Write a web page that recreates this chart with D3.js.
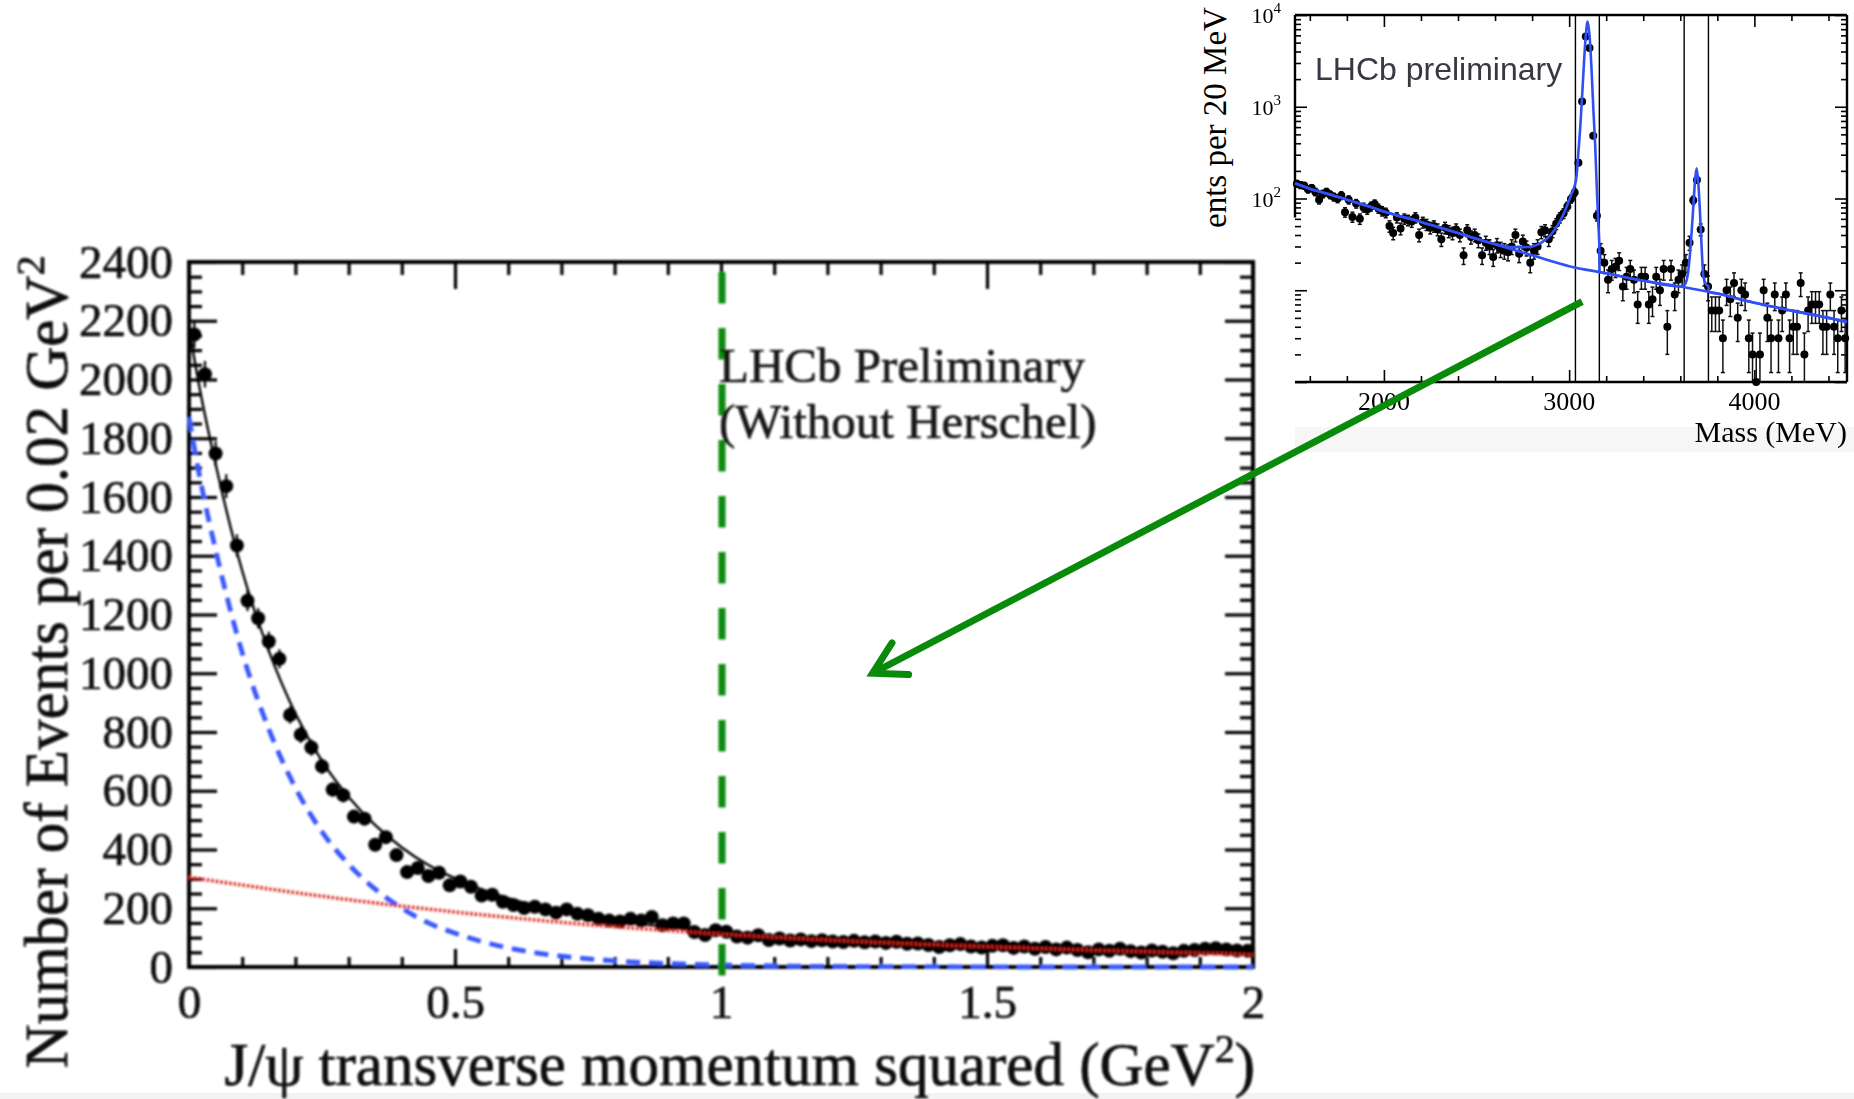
<!DOCTYPE html>
<html>
<head>
<meta charset="utf-8">
<script src="https://cdn.jsdelivr.net/npm/d3@7"></script>
<style>
  body { margin: 0; background: #fff; }
  svg { display: block; }
</style>
</head>
<body>
<div id="container"></div>
<script>
let w = 1854;
let h = 1099;

// ---- MAIN PLOT DATA (J/psi pT^2, bins of 0.02 GeV^2) ----
let binWidth = 0.02;
let counts = [2153, 2018, 1748, 1637, 1435, 1247, 1187, 1108, 1049, 858,
  791, 747, 683, 604, 585, 512, 505, 416, 442, 381,
  323, 337, 310, 321, 278, 291, 273, 243, 246, 222,
  211, 201, 205, 196, 185, 196, 181, 176, 164, 158,
  155, 164, 158, 170, 142, 148, 148, 119, 109, 125,
  120, 104, 100, 108, 92, 97, 90, 94, 88, 91,
  87, 85, 89, 84, 87, 82, 86, 79, 80, 75,
  68, 74, 78, 70, 66, 72, 74, 65, 70, 62,
  68, 60, 66, 58, 50, 60, 55, 62, 54, 49,
  56, 52, 47, 55, 58, 62, 64, 60, 56, 55];

// fit curves
let fitPt = [0, 0.02, 0.05, 0.1, 0.15, 0.2, 0.25, 0.3, 0.35, 0.4, 0.45, 0.5, 0.6, 0.7, 0.8, 0.9, 1.0, 1.2, 1.4, 1.6, 1.8, 2.0];
let fitSignal = [1870, 1670, 1420, 1070, 810, 610, 460, 350, 265, 200, 150, 115, 65, 37, 21, 12, 7, 2, 1, 0, 0, 0];
let fitBackground = [305, 300, 292, 279, 266, 253, 241, 229, 218, 207, 197, 187, 169, 152, 137, 124, 112, 92, 76, 63, 52, 42];
let fitTotal = [2175, 1970, 1712, 1349, 1076, 863, 701, 579, 483, 407, 347, 302, 234, 189, 158, 136, 119, 94, 77, 63, 52, 42];

let yTicks = [0, 200, 400, 600, 800, 1000, 1200, 1400, 1600, 1800, 2000, 2200, 2400];
let xTicks = [0, 0.5, 1, 1.5, 2];
let xTickLabels = ["0", "0.5", "1", "1.5", "2"];
let cutPt = 1;

// ---- INSET DATA (dimuon mass, 20 MeV bins from 1520) ----
let massStart = 1520;
let massBin = 20;
let massCounts = [145, 140, 138, 126, 130, 118, 97, 112, 118, 110,
  104, 100, 108, 71, 97, 63, 88, 60, 80, 76,
  82, 87, 78, 73, 70, 50, 42, 62, 47, 60,
  58, 56, 62, 40, 55, 52, 48, 50, 46, 36,
  48, 44, 42, 46, 40, 24, 45, 38, 40, 35,
  24, 33, 30, 23, 31, 28, 27, 26, 30, 40,
  25, 34, 29, 20, 27, 30, 43, 45, 36, 44,
  53, 62, 69,
  82, 99, 116, 246, 1140, 5830, 4360, 482, 65, 27,
  20, 13, 17, 18, 21, 11, 14, 17, 13, 7, 14, 14, 7, 8, 14, 10, 17, 4, 17, 9, 13, 15,
  20, 33, 96, 159, 46, 15, 11,
  6, 6, 6, 3, 10, 8, 12, 5, 10, 9, 3, 2, 1, 2, 10, 5, 3, 9, 3, 6,
  9, 3, 4, 4, 12, 2, 6, 7, 7, 7, 4, 4, 9, 4, 3, 6, 3];

let bgMass = [1520, 1600, 1700, 1800, 1900, 2000, 2200, 2400, 2600, 2800, 3000, 3200, 3400, 3600, 3800, 4000, 4200, 4400, 4500];
let bgFit = [147, 128, 112, 97, 84.5, 72, 55.6, 42, 31.7, 24, 18.3, 15.3, 12.7, 11, 9.2, 7.3, 6, 5, 4.5];

let totalMass = [1520, 1600, 1700, 1800, 1900, 2000, 2200, 2400, 2600, 2700,
  2750, 2800, 2850, 2900, 2940, 2970, 2990, 3005, 3020, 3030,
  3040, 3050, 3060, 3070, 3080, 3090, 3100, 3110, 3120, 3130,
  3140, 3150, 3157, 3163, 3164, 3200, 3400, 3600, 3621, 3635,
  3650, 3660, 3670, 3680, 3688, 3696, 3705, 3715, 3725, 3740,
  3752, 3753, 3800, 4000, 4200, 4400, 4500];
let totalFit = [147, 128, 112, 97, 84.5, 72, 55.6, 42, 32, 29.5,
  29.5, 30, 33, 40, 52, 68, 85, 102, 122, 138,
  175, 320, 600, 1300, 3000, 6000, 8500, 6000, 2800, 1000,
  400, 120, 55, 30, 15.8, 15.3, 12.7, 11, 11.3, 13,
  22, 40, 80, 160, 214, 160, 80, 30, 14, 11.5,
  11, 9.6, 9.2, 7.3, 6, 5, 4.5];

let windowEdges = [3034, 3163, 3621, 3752];
let massTicks = [2000, 3000, 4000];
let decadeLabels = [[100, "2"], [1000, "3"], [10000, "4"]];

// arrow: from a point of the inset to a point of the main plot
let arrowFrom = {mass: 3070, n: 7.5};
let arrowTo = {pt: 1.285, n: 1000};

let serif = "'Liberation Serif', 'Times New Roman', serif";
let sans = "'Liberation Sans', Arial, sans-serif";

// SVG
let viz = d3.select("#container").append("svg")
    .attr("width", w)
    .attr("height", h);
viz.append("rect").attr("width", w).attr("height", h).attr("fill", "white");

let defs = viz.append("defs");
defs.append("filter").attr("id", "soft")
  .append("feGaussianBlur").attr("stdDeviation", 0.8);

// faint grey bands left from the pasted screenshots
viz.append("rect").attr("x", 0).attr("y", 1093).attr("width", w).attr("height", 6).attr("fill", "#f3f3f3");
viz.append("rect").attr("x", 1295).attr("y", 427).attr("width", w - 1295).attr("height", 25).attr("fill", "#f6f6f6");

// ================= MAIN PLOT =================
let x = d3.scaleLinear().domain([0, 2]).range([189, 1253]);
let y = d3.scaleLinear().domain([0, 2400]).range([967, 262]);

let main = viz.append("g").attr("filter", "url(#soft)");

function styleAxis(g, fontSize) {
  g.select(".domain").remove();
  g.selectAll("line").attr("stroke", "black").attr("stroke-width", 3.2);
  g.selectAll("text").attr("font-family", serif).attr("font-size", fontSize)
    .attr("fill", "#0a0a0a").attr("stroke", "#0a0a0a").attr("stroke-width", 0.6);
}

let yMinor = d3.range(0, 2401, 50).filter(v => v % 200 != 0);
let xMinor = d3.range(0, 21).map(v => v / 10).filter(v => Math.round(v * 10) % 5 != 0);

main.append("g").attr("transform", "translate(" + x(0) + ",0)")
  .call(d3.axisLeft(y).tickValues(yTicks).tickSize(-28).tickPadding(16).tickFormat(d3.format("d")))
  .call(g => styleAxis(g, 47));
main.append("g").attr("transform", "translate(" + x(0) + ",0)")
  .call(d3.axisLeft(y).tickValues(yMinor).tickSize(-13).tickFormat(""))
  .call(g => styleAxis(g, 47));
main.append("g").attr("transform", "translate(" + x(2) + ",0)")
  .call(d3.axisRight(y).tickValues(yTicks).tickSize(-28).tickFormat(""))
  .call(g => styleAxis(g, 47));
main.append("g").attr("transform", "translate(" + x(2) + ",0)")
  .call(d3.axisRight(y).tickValues(yMinor).tickSize(-13).tickFormat(""))
  .call(g => styleAxis(g, 47));
main.append("g").attr("transform", "translate(0," + y(0) + ")")
  .call(d3.axisBottom(x).tickValues(xTicks).tickSize(-18).tickPadding(18).tickFormat((d, i) => xTickLabels[i]))
  .call(g => styleAxis(g, 47));
main.append("g").attr("transform", "translate(0," + y(0) + ")")
  .call(d3.axisBottom(x).tickValues(xMinor).tickSize(-10).tickFormat(""))
  .call(g => styleAxis(g, 47));
main.append("g").attr("transform", "translate(0," + y(2400) + ")")
  .call(d3.axisTop(x).tickValues(xTicks).tickSize(-27).tickFormat(""))
  .call(g => styleAxis(g, 47));
main.append("g").attr("transform", "translate(0," + y(2400) + ")")
  .call(d3.axisTop(x).tickValues(xMinor).tickSize(-13).tickFormat(""))
  .call(g => styleAxis(g, 47));

main.append("rect")
  .attr("x", x(0)).attr("y", y(2400))
  .attr("width", x(2) - x(0)).attr("height", y(0) - y(2400))
  .attr("fill", "none").attr("stroke", "black").attr("stroke-width", 4);

// data points
let pts = counts.map(function(c, i){
  return {pt: binWidth * (i + 0.5), n: c};
});
main.selectAll(".errV").data(pts).enter()
  .append("line")
    .attr("class", "errV")
    .attr("x1", d => x(d.pt)).attr("x2", d => x(d.pt))
    .attr("y1", d => y(d.n + Math.sqrt(d.n))).attr("y2", d => y(d.n - Math.sqrt(d.n)))
    .attr("stroke", "black").attr("stroke-width", 2.2);
main.selectAll(".errH").data(pts).enter()
  .append("line")
    .attr("class", "errH")
    .attr("x1", d => x(d.pt - binWidth / 2)).attr("x2", d => x(d.pt + binWidth / 2))
    .attr("y1", d => y(d.n)).attr("y2", d => y(d.n))
    .attr("stroke", "black").attr("stroke-width", 2.2);
main.selectAll(".dot").data(pts).enter()
  .append("circle")
    .attr("class", "dot")
    .attr("cx", d => x(d.pt)).attr("cy", d => y(d.n))
    .attr("r", 7).attr("fill", "black");

// fit curves
function fitPath(vals){
  return d3.line()
    .x((d, i) => x(fitPt[i]))
    .y(d => y(d))
    .curve(d3.curveMonotoneX)(vals);
}
main.append("path").attr("d", fitPath(fitTotal))
  .attr("fill", "none").attr("stroke", "black").attr("stroke-width", 2.4);
main.append("path").attr("d", fitPath(fitSignal))
  .attr("fill", "none").attr("stroke", "#3a58fa").attr("stroke-width", 4.8)
  .attr("stroke-dasharray", "14 9");
main.append("path").attr("d", fitPath(fitBackground))
  .attr("fill", "none").attr("stroke", "#d8281e").attr("stroke-width", 3.6)
  .attr("stroke-dasharray", "2.5 2");

// cut at 1 GeV^2
main.append("line")
  .attr("x1", x(cutPt) + 1).attr("x2", x(cutPt) + 1)
  .attr("y1", y(2400) + 10).attr("y2", y(0) + 9)
  .attr("stroke", "#0a8a0a").attr("stroke-width", 7)
  .attr("stroke-dasharray", "31.5 24.5");

// labels
let lhcb = main.append("g").attr("font-family", serif).attr("font-size", 49)
  .attr("fill", "#141414").attr("stroke", "#141414").attr("stroke-width", 0.6);
lhcb.append("text").attr("x", x(cutPt) - 2).attr("y", 382).text("LHCb Preliminary");
lhcb.append("text").attr("x", x(cutPt) - 2).attr("y", 438).text("(Without Herschel)");

let xTitle = main.append("text")
  .attr("x", x(2) + 2).attr("y", 1085)
  .attr("text-anchor", "end")
  .attr("font-family", serif).attr("font-size", 61)
  .attr("fill", "#0a0a0a").attr("stroke", "#0a0a0a").attr("stroke-width", 0.7);
xTitle.append("tspan").text("J/\u03c8 transverse momentum squared (GeV");
xTitle.append("tspan").attr("font-size", 40).attr("dy", -23).text("2");
xTitle.append("tspan").attr("dy", 23).text(")");

let yTitle = main.append("text")
  .attr("transform", "translate(67,662) rotate(-90)")
  .attr("text-anchor", "middle")
  .attr("font-family", serif).attr("font-size", 61)
  .attr("fill", "#0a0a0a").attr("stroke", "#0a0a0a").attr("stroke-width", 0.7);
yTitle.append("tspan").text("Number of Events per 0.02 GeV");
yTitle.append("tspan").attr("font-size", 40).attr("dy", -23).text("2");

// ================= INSET =================
let xm = d3.scaleLinear().domain([1520, 4500]).range([1295, 1847]);
let ym = d3.scaleLog().domain([1, 10000]).range([382, 15]);
let inset = viz.append("g");

let massMinor = d3.range(1600, 4500, 200).filter(v => v % 1000 != 0);
let logMinor = [];
[1, 10, 100, 1000].forEach(function(dec){
  for (let k = 2; k <= 9; k++) logMinor.push(k * dec);
});
let logMajor = [1, 10, 100, 1000, 10000];

function thin(g){
  g.select(".domain").remove();
  g.selectAll("line").attr("stroke", "black").attr("stroke-width", 1.6);
}
inset.append("g").attr("transform", "translate(0," + ym(1) + ")")
  .call(d3.axisBottom(xm).tickValues(massTicks).tickSize(-12).tickFormat("")).call(thin);
inset.append("g").attr("transform", "translate(0," + ym(1) + ")")
  .call(d3.axisBottom(xm).tickValues(massMinor).tickSize(-6).tickFormat("")).call(thin);
inset.append("g").attr("transform", "translate(0," + ym(10000) + ")")
  .call(d3.axisTop(xm).tickValues(massTicks).tickSize(-12).tickFormat("")).call(thin);
inset.append("g").attr("transform", "translate(0," + ym(10000) + ")")
  .call(d3.axisTop(xm).tickValues(massMinor).tickSize(-6).tickFormat("")).call(thin);
inset.append("g").attr("transform", "translate(" + xm(1520) + ",0)")
  .call(d3.axisLeft(ym).tickValues(logMajor).tickSize(-12).tickFormat("")).call(thin);
inset.append("g").attr("transform", "translate(" + xm(1520) + ",0)")
  .call(d3.axisLeft(ym).tickValues(logMinor).tickSize(-6).tickFormat("")).call(thin);
inset.append("g").attr("transform", "translate(" + xm(4500) + ",0)")
  .call(d3.axisRight(ym).tickValues(logMajor).tickSize(-12).tickFormat("")).call(thin);
inset.append("g").attr("transform", "translate(" + xm(4500) + ",0)")
  .call(d3.axisRight(ym).tickValues(logMinor).tickSize(-6).tickFormat("")).call(thin);

// frame (left side only drawn down to ~60 entries, as in the picture)
inset.append("line").attr("x1", xm(1520)).attr("x2", xm(4500)).attr("y1", ym(1)).attr("y2", ym(1))
  .attr("stroke", "black").attr("stroke-width", 2.4);
inset.append("line").attr("x1", xm(1520)).attr("x2", xm(4500)).attr("y1", ym(10000)).attr("y2", ym(10000))
  .attr("stroke", "black").attr("stroke-width", 2.4);
inset.append("line").attr("x1", xm(4500)).attr("x2", xm(4500)).attr("y1", ym(10000)).attr("y2", ym(1))
  .attr("stroke", "black").attr("stroke-width", 2.4);
inset.append("line").attr("x1", xm(1520)).attr("x2", xm(1520)).attr("y1", ym(10000)).attr("y2", ym(62))
  .attr("stroke", "black").attr("stroke-width", 2.4);

// signal windows
inset.selectAll(".win").data(windowEdges).enter()
  .append("line")
    .attr("class", "win")
    .attr("x1", d => xm(d)).attr("x2", d => xm(d))
    .attr("y1", ym(10000)).attr("y2", ym(1))
    .attr("stroke", "black").attr("stroke-width", 1.4);

// data with error bars
let mpts = massCounts.map(function(c, i){
  return {m: massStart + massBin * (i + 0.5), n: c};
});
function lo(d){ return ym(Math.max(d.n - Math.sqrt(d.n), 1)); }
function hi(d){ return ym(d.n + Math.sqrt(d.n)); }
inset.selectAll(".merr").data(mpts).enter()
  .append("line")
    .attr("class", "merr")
    .attr("x1", d => xm(d.m)).attr("x2", d => xm(d.m))
    .attr("y1", hi).attr("y2", lo)
    .attr("stroke", "#111").attr("stroke-width", 1.5);
inset.selectAll(".mcapT").data(mpts).enter()
  .append("line")
    .attr("x1", d => xm(d.m) - 2).attr("x2", d => xm(d.m) + 2)
    .attr("y1", hi).attr("y2", hi)
    .attr("stroke", "#111").attr("stroke-width", 1.5);
inset.selectAll(".mcapB").data(mpts).enter()
  .append("line")
    .attr("x1", d => xm(d.m) - 2).attr("x2", d => xm(d.m) + 2)
    .attr("y1", lo).attr("y2", lo)
    .attr("stroke", "#111").attr("stroke-width", 1.5);
inset.selectAll(".mdot").data(mpts).enter()
  .append("circle")
    .attr("cx", d => xm(d.m)).attr("cy", d => ym(d.n))
    .attr("r", 4).attr("fill", "black");

// fit lines
let bgLine = d3.line().x((d, i) => xm(bgMass[i])).y(d => ym(d)).curve(d3.curveMonotoneX);
let totLine = d3.line().x((d, i) => xm(totalMass[i])).y(d => ym(d)).curve(d3.curveMonotoneX);
inset.append("path").attr("d", bgLine(bgFit))
  .attr("fill", "none").attr("stroke", "#3050f5").attr("stroke-width", 2.6);
inset.append("path").attr("d", totLine(totalFit))
  .attr("fill", "none").attr("stroke", "#3050f5").attr("stroke-width", 2.6);

// inset text
inset.selectAll(".mlab").data(massTicks).enter()
  .append("text")
    .attr("x", d => xm(d)).attr("y", 410)
    .attr("text-anchor", "middle")
    .attr("font-family", serif).attr("font-size", 26)
    .text(d => d);
inset.append("text")
  .attr("x", xm(4500)).attr("y", 442)
  .attr("text-anchor", "end")
  .attr("font-family", serif).attr("font-size", 30)
  .text("Mass (MeV)");
decadeLabels.forEach(function(dl){
  let t = inset.append("text")
    .attr("x", 1281).attr("y", ym(dl[0]) + 8)
    .attr("text-anchor", "end")
    .attr("font-family", serif).attr("font-size", 22);
  t.append("tspan").text("10");
  t.append("tspan").attr("font-size", 15).attr("dy", -10).text(dl[1]);
});
inset.append("text")
  .attr("transform", "translate(1226,228) rotate(-90)")
  .attr("font-family", serif).attr("font-size", 33)
  .text("ents per 20 MeV");
inset.append("text")
  .attr("x", 1315).attr("y", 80)
  .attr("font-family", sans).attr("font-size", 32).attr("fill", "#383842")
  .text("LHCb preliminary");

// ================= ARROW =================
let ax1 = xm(arrowFrom.mass), ay1 = ym(arrowFrom.n);
let ax2 = x(arrowTo.pt), ay2 = y(arrowTo.n);
let ang = Math.atan2(ay1 - ay2, ax1 - ax2);
let headLen = 36;
let arrow = viz.append("g")
  .attr("stroke", "#0a8a0a").attr("stroke-width", 7).attr("stroke-linecap", "round").attr("fill", "none");
arrow.append("line").attr("x1", ax1).attr("y1", ay1).attr("x2", ax2).attr("y2", ay2).attr("stroke-linecap", "butt");
arrow.append("path").attr("d", d3.line()([
  [ax2 + headLen * Math.cos(ang + 0.52), ay2 + headLen * Math.sin(ang + 0.52)],
  [ax2, ay2],
  [ax2 + headLen * Math.cos(ang - 0.52), ay2 + headLen * Math.sin(ang - 0.52)]
]));
</script>
</body>
</html>
